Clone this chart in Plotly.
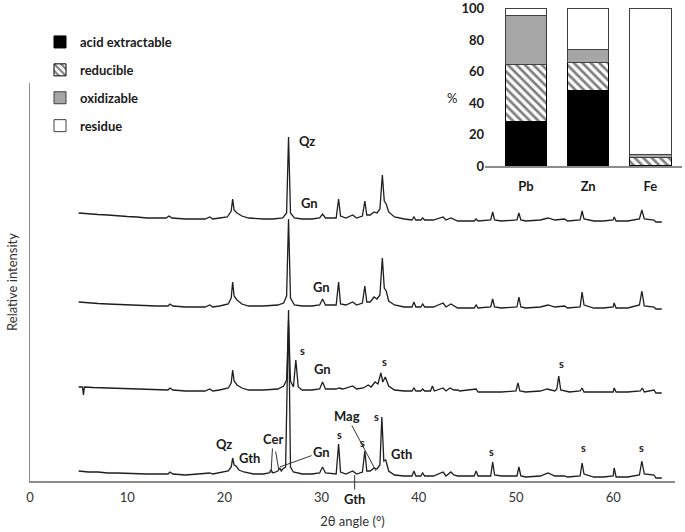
import plotly.graph_objects as go

# ---------------- inset: metal fractionation (%) ----------------
elements = ["Pb", "Zn", "Fe"]
acid_extractable = [28.0, 48.1, 0.4]
reducible = [36.4, 17.6, 5.3]
oxidizable = [31.4, 8.5, 1.8]
residue = [4.2, 25.8, 92.5]
inset_ticks = [0, 20, 40, 60, 80, 100]

# ---------------- XRD patterns (2theta, relative intensity) ----------------
theta1 = [5.0, 6, 7, 8, 9, 10, 11, 12, 13, 14, 14.3, 14.6, 16, 17, 18, 18.5, 18.8, 19.5, 20.3, 20.7, 20.85, 21.0, 21.3, 21.8, 22.5, 24, 25, 26.0, 26.4, 26.6, 26.8, 27.2, 28, 29, 29.8, 30.1, 30.4, 31.5, 31.75, 31.95, 32.5, 33.2, 33.6, 34.2, 34.45, 34.65, 35.0, 35.4, 35.7, 36.0, 36.25, 36.45, 36.65, 36.9, 37.5, 38.5, 39.3, 39.5, 39.7, 40.2, 40.4, 40.6, 41.5, 42.5, 42.8, 43.3, 43.6, 44, 45.7, 45.9, 46.1, 47.4, 47.6, 47.8, 48.5, 50.1, 50.3, 50.5, 51, 52.5, 53.3, 54, 55, 55.3, 56.6, 56.8, 57.0, 58, 59, 60.0, 60.1, 60.3, 61.5, 62.7, 62.95, 63.2, 64.2, 64.4, 65]
inten1 = [268, 267, 266.5, 266, 265, 264.5, 264, 263, 263, 263, 265, 263, 262, 262, 262, 264, 262, 263, 264, 270, 282, 271, 268, 265, 263, 262, 262, 263, 268, 344, 268, 263, 262, 262, 263, 267, 263, 263, 282, 265, 263, 266, 263, 265, 280, 266, 266, 269, 268, 272, 306, 280, 277, 269, 264, 262, 261, 264, 261, 261, 263, 261, 261, 264, 261, 263, 262, 260, 260, 262, 260, 261, 269, 261, 260, 261, 268, 261, 260, 261, 263, 261, 262, 260, 261, 270, 262, 260, 260, 261, 264, 260, 260, 262, 271, 262, 261, 259, 259]

theta2 = [5.0, 6, 7, 8, 9, 10, 11, 12, 13, 14.2, 14.4, 14.7, 16, 17, 18, 18.5, 18.8, 19.5, 20.4, 20.7, 20.85, 21.0, 21.3, 21.8, 22.5, 24, 25.5, 26.1, 26.4, 26.6, 26.8, 27.2, 28, 29, 29.8, 30.1, 30.4, 31.5, 31.75, 31.95, 32.5, 33.2, 33.6, 34.2, 34.45, 34.65, 35.0, 35.4, 35.7, 36.0, 36.25, 36.45, 36.65, 36.9, 37.5, 38.5, 39.3, 39.5, 39.7, 40.2, 40.4, 40.6, 41.5, 42.5, 42.8, 43.3, 43.6, 44, 45.7, 45.9, 46.1, 47.4, 47.6, 47.8, 48.5, 50.1, 50.3, 50.5, 51, 52.5, 53.3, 54, 55, 55.3, 56.6, 56.8, 57.0, 58, 59, 60.0, 60.1, 60.3, 61.5, 62.7, 62.95, 63.2, 64.2, 64.4, 65]
inten2 = [179, 178, 177.5, 177, 176.5, 176, 175.5, 175, 175, 175, 177, 175, 174, 174, 174, 176, 174, 175, 177, 183, 199, 185, 181, 177, 175, 175, 176, 178, 185, 262, 183, 176, 175, 175, 176, 182, 176, 176, 199, 177, 176, 179, 176, 178, 195, 179, 179, 184, 182, 186, 223, 193, 190, 180, 176, 174, 174, 179, 174, 174, 177, 174, 174, 178, 174, 177, 175, 173, 173, 176, 173, 174, 182, 174, 173, 174, 184, 174, 173, 174, 176, 174, 175, 173, 174, 189, 176, 173, 173, 174, 178, 173, 173, 176, 190, 175, 174, 172, 172]

theta3 = [5.0, 5.4, 5.5, 5.6, 6.5, 8, 9, 10, 11, 12, 13, 14.2, 14.4, 14.7, 16, 17, 18, 18.5, 18.8, 19.5, 20.4, 20.7, 20.85, 21.0, 21.3, 21.8, 22.5, 24, 25.5, 26.1, 26.4, 26.6, 26.8, 27.1, 27.35, 27.6, 28, 29, 29.8, 30.1, 30.4, 31.5, 31.8, 32.2, 33.2, 33.6, 34.3, 34.8, 35.1, 35.5, 35.8, 36.1, 36.3, 36.55, 36.9, 37.5, 38.5, 39.3, 39.5, 39.7, 40.2, 40.4, 40.6, 41.2, 41.4, 41.6, 42.5, 42.8, 43.2, 43.6, 44, 44.2, 45.9, 46.1, 47.5, 48.5, 50.0, 50.2, 50.4, 51, 52.5, 53.2, 54, 54.2, 54.4, 54.6, 55.5, 56.6, 56.8, 57.0, 58, 60.0, 60.1, 60.3, 61.5, 62.8, 63.0, 63.2, 64.2, 64.4, 65]
inten3 = [94, 94, 86, 94, 93.5, 93, 92.5, 92, 91.5, 91, 91, 91, 93, 91, 90, 90, 90, 92, 90, 91, 93, 98, 111, 100, 96, 93, 91, 91, 92, 95, 101, 160, 100, 94, 121, 94, 91, 91, 92, 99, 92, 92, 93, 92, 95, 92, 93, 96, 94, 99, 97, 108, 99, 104, 95, 91, 90, 90, 93, 90, 90, 92, 90, 90, 95, 90, 93, 90, 93, 91, 91, 90, 92, 89, 89, 89, 90, 98, 90, 89, 90, 92, 90, 92, 105, 91, 89, 90, 93, 89, 89, 89, 93, 89, 89, 90, 93, 89, 91, 88, 88]

theta4 = [5.0, 6, 7, 8, 9, 10, 11, 12, 13, 14.2, 14.4, 14.7, 16, 17, 18, 18.5, 18.8, 19.5, 20.4, 20.7, 20.85, 21.0, 21.2, 21.5, 22, 23, 24, 24.6, 24.8, 25.0, 25.5, 25.7, 25.85, 26.0, 26.3, 26.6, 26.8, 27.1, 28, 29, 29.8, 30.1, 30.4, 31.5, 31.75, 31.95, 32.5, 33.2, 33.6, 34.2, 34.45, 34.65, 35.0, 35.4, 35.7, 36.0, 36.2, 36.4, 36.6, 36.9, 37.5, 38.5, 39.3, 39.5, 39.7, 40.2, 40.4, 40.6, 41.5, 42.5, 42.8, 43.3, 43.6, 44, 45.7, 45.9, 46.1, 47.4, 47.6, 47.8, 48.5, 50.1, 50.3, 50.5, 51, 52.5, 53.3, 54, 55, 55.3, 56.6, 56.8, 57.0, 58, 59, 60.0, 60.1, 60.3, 61.5, 62.7, 62.95, 63.2, 64.2, 64.4, 65]
inten4 = [10, 9, 9, 8, 8, 7.5, 7, 7, 7, 7, 9, 7, 6, 6.5, 7, 8, 7, 8, 10, 14, 23, 16, 15, 11, 9, 7, 7, 8, 11, 8, 10, 13, 10, 12, 14, 171, 14, 9, 7, 7, 8, 14, 8, 7, 37, 9, 7, 10, 7, 9, 30, 10, 10, 13, 12, 16, 64, 20, 21, 10, 6, 5, 5, 10, 5, 5, 8, 5, 5, 9, 5, 9, 6, 5, 5, 10, 5, 5, 19, 6, 5, 5, 14, 5, 4, 5, 8, 5, 5, 4, 5, 18, 7, 4, 4, 5, 13, 4, 4, 6, 20, 7, 6, 3, 3]

xtick_vals = [0, 10, 20, 30, 40, 50, 60]

# peak labels: (text, 2theta, intensity, font size)
peak_labels = [
    ("Qz", 28.5, 340, 13), ("Gn", 28.8, 278, 13),
    ("Gn", 30.0, 194, 13),
    ("s", 28.0, 131, 11), ("Gn", 30.1, 112, 13), ("s", 36.5, 120, 11), ("s", 54.7, 118, 11),
    ("Qz", 20.0, 37, 13), ("Gth", 22.6, 23, 13), ("s", 31.8, 47, 11), ("s", 34.2, 39, 11),
    ("s", 35.7, 65, 11), ("Gth", 38.2, 27, 13), ("s", 47.5, 30, 11),
    ("s", 56.9, 34, 11), ("s", 62.9, 34, 11),
]
# leader-line labels: (text, label 2theta, label intensity, peak 2theta, peak intensity, size)
leader_labels = [
    ("Cer", 25.0, 42, 24.8, 8, 13),
    (" ", 25.1, 39, 25.6, 11, 13),
    ("Gn", 30.0, 29, 25.7, 14, 13),
    ("Mag", 32.6, 65, 35.6, 10, 13),
]

FONT = "Lato"
INK = "#1a1a1a"

fig = go.Figure()

for th, it in [(theta1, inten1), (theta2, inten2), (theta3, inten3), (theta4, inten4)]:
    fig.add_trace(go.Scatter(x=th, y=it, mode="lines", line=dict(color="#1e1e1e", width=1.3),
                             showlegend=False, hoverinfo="skip", xaxis="x", yaxis="y"))

bar_common = dict(xaxis="x2", yaxis="y2", width=0.67)
fig.add_trace(go.Bar(x=elements, y=acid_extractable, name="<b>acid extractable</b>", legendgroup="a",
                     marker=dict(color="black", line=dict(color="black", width=1)), **bar_common))
fig.add_trace(go.Bar(x=elements, y=reducible, name="<b>reducible</b>", legendgroup="b",
                     marker=dict(color="white", line=dict(color="black", width=1),
                                 pattern=dict(shape="\\", fgcolor="black", bgcolor="white",
                                              size=6, solidity=0.45)), **bar_common))
fig.add_trace(go.Bar(x=elements, y=oxidizable, name="<b>oxidizable</b>", legendgroup="c",
                     marker=dict(color="#a6a6a6", line=dict(color="#404040", width=1)), **bar_common))
fig.add_trace(go.Bar(x=elements, y=residue, name="<b>residue</b>", legendgroup="d",
                     marker=dict(color="white", line=dict(color="#404040", width=1)), **bar_common))

L, R, T, B = 30, 3, 8, 51
W, H = 685, 532
pw, ph = W - L - R, H - T - B
def px2paperx(p):
    return (p - L) / pw
def px2papery(p):
    return (H - B - p) / ph

annotations = []
for txt, xv, yv, fs in peak_labels:
    annotations.append(dict(text=f"<b>{txt}</b>", x=xv, y=yv, xref="x", yref="y", showarrow=False,
                            font=dict(family=FONT, size=fs, color=INK)))
for txt, lx, ly, px, py, fs in leader_labels:
    annotations.append(dict(text=f"<b>{txt}</b>" if txt.strip() else " ", x=px, y=py, ax=lx, ay=ly,
                            xref="x", yref="y", axref="x", ayref="y", showarrow=True,
                            arrowhead=0, arrowwidth=1, arrowcolor="#333333",
                            font=dict(family=FONT, size=fs, color=INK)))
# Gth label under the axis with a vertical leader
annotations.append(dict(text="<b>Gth</b>", x=33.4, y=px2papery(475), xref="x", yref="paper", ax=0, ay=24,
                        showarrow=True, arrowhead=0, arrowwidth=1, arrowcolor="#333333",
                        font=dict(family=FONT, size=13, color=INK)))
# % label of the inset
annotations.append(dict(text="%", x=px2paperx(452), y=px2papery(88), xref="paper", yref="paper",
                        showarrow=False, font=dict(family=FONT, size=13, color=INK)))

fig.update_layout(
    width=W, height=H, margin=dict(l=L, r=R, t=T, b=B, autoexpand=False),
    paper_bgcolor="white", plot_bgcolor="white",
    font=dict(family=FONT, size=13, color="#333333"),
    barmode="stack", hovermode=False,
    xaxis=dict(domain=[0, px2paperx(675)], range=[0, 66.36], tickvals=xtick_vals,
               showline=True, linecolor="#8c8c8c", linewidth=1.5, showgrid=False, zeroline=False,
               ticks="", ticklabelstandoff=4, automargin=False,
               title=dict(text="2θ angle (°)", font=dict(size=13, color="#333333"), standoff=13),
               anchor="y"),
    yaxis=dict(domain=[0, px2papery(83)], range=[0, 398], showticklabels=False, ticks="",
               showline=True, linecolor="#8c8c8c", linewidth=1.5, showgrid=False, zeroline=False,
               automargin=False,
               title=dict(text="Relative intensity", font=dict(size=13, color="#333333"), standoff=8),
               anchor="x"),
    xaxis2=dict(domain=[px2paperx(485), 1], range=[-0.66, 2.51], type="category",
                showline=True, linecolor="#8c8c8c", linewidth=1.5, showgrid=False, zeroline=False,
                ticks="", ticklabelstandoff=8, anchor="y2", automargin=False,
                tickfont=dict(family=FONT, size=13, color=INK)),
    yaxis2=dict(domain=[px2papery(166), 1], range=[0, 100.4], tickvals=inset_ticks,
                ticktext=[f"<b>{v}</b>" for v in inset_ticks],
                showline=False, showgrid=False, zeroline=False, ticks="", anchor="x2",
                automargin=False, tickfont=dict(family=FONT, size=13, color=INK)),
    legend=dict(x=px2paperx(40), y=px2papery(27), xanchor="left", yanchor="top",
                traceorder="grouped", tracegroupgap=8, bgcolor="rgba(0,0,0,0)",
                font=dict(family=FONT, size=13, color=INK), itemclick=False),
    annotations=annotations,
)
fig.update_xaxes(selector=dict(anchor="y2"), tickvals=elements,
                 ticktext=[f"<b>{e}</b>" for e in elements])

# remove the browser's default 8px page margin so the 685x532 figure fills the window exactly
fig.write_html("out.html", config={"displayModeBar": False, "staticPlot": True},
               post_script="document.body.style.margin='0';")
